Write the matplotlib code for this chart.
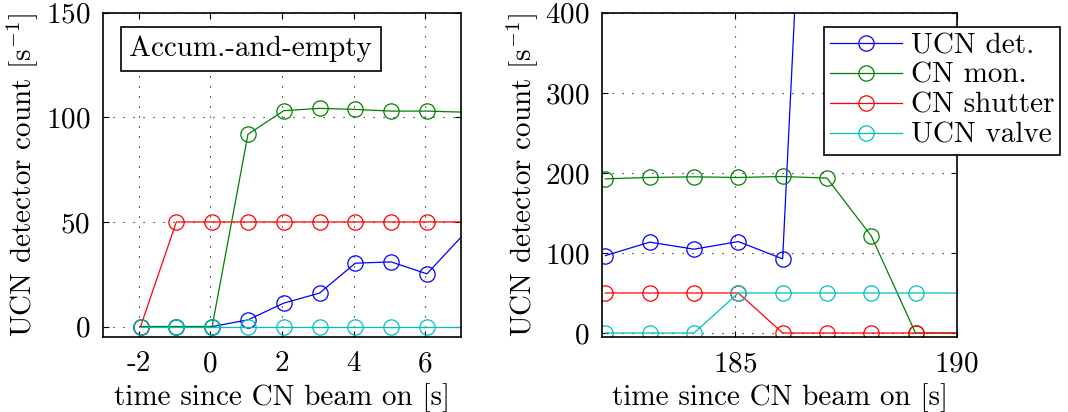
import matplotlib
matplotlib.use("Agg")
import matplotlib.pyplot as plt

plt.rcParams.update({
    "font.family": "serif",
    "font.serif": ["cmr10"],
    "mathtext.fontset": "cm",
    "axes.unicode_minus": False,
    "axes.formatter.use_mathtext": True,
    "font.size": 21,
    "xtick.direction": "in",
    "ytick.direction": "in",
    "xtick.top": True,
    "ytick.right": True,
})

# Left panel: start of accumulation
t_left = [-1.95, -0.95, 0.05, 1.05, 2.05, 3.05, 4.05, 5.05, 6.05, 7.05]
ucn_det_left = [0, 0, 0, 3.2, 11.2, 16.0, 30.3, 30.9, 25.2, 43.6]
cn_mon_left = [0, 0, 0, 91.9, 103.2, 104.3, 103.8, 103.0, 103.0, 102.5]
cn_shutter_left = [0, 50, 50, 50, 50, 50, 50, 50, 50, 50]
ucn_valve_left = [0, 0, 0, 0, 0, 0, 0, 0, 0, 0]

# Right panel: emptying
t_right = [182.07, 183.07, 184.07, 185.07, 186.07, 187.07, 188.07, 189.07, 190.07]
ucn_det_right = [96.7, 113.5, 104.7, 114.2, 92.6, 1230, 1230, 1230, 1230]
cn_mon_right = [192.6, 194.3, 195.1, 194.3, 195.5, 193.5, 121.3, 0, 0]
cn_shutter_right = [50, 50, 50, 50, 0, 0, 0, 0, 0]
ucn_valve_right = [0, 0, 0, 50, 50, 50, 50, 50, 50]

labels = ["UCN det.", "CN mon.", "CN shutter", "UCN valve"]
colors = ["#0000ff", "#008000", "#ff0000", "#00bfbf"]

xlim_left = (-3, 7)
xlim_right = (182, 190)

fig = plt.figure(figsize=(10.68, 4.12), dpi=100)
ax1 = fig.add_axes([0.0964, 0.182, 0.3352, 0.787])
ax2 = fig.add_axes([0.564, 0.182, 0.3318, 0.787])

mk = dict(marker="o", markersize=11, markerfacecolor="none", linewidth=0.9,
          markeredgewidth=0.9)


def inside(ts, lim):
    return [i for i, t in enumerate(ts) if lim[0] <= t <= lim[1]]


left_series = [ucn_det_left, cn_mon_left, cn_shutter_left, ucn_valve_left]
right_series = [ucn_det_right, cn_mon_right, cn_shutter_right, ucn_valve_right]

for ys, c in zip(left_series, colors):
    ax1.plot(t_left, ys, color=c, markevery=inside(t_left, xlim_left), **mk)
handles = []
for ys, c, lab in zip(right_series, colors, labels):
    h, = ax2.plot(t_right, ys, color=c, label=lab,
                  markevery=inside(t_right, xlim_right), **mk)
    handles.append(h)

ax1.set_xlim(*xlim_left)
ax1.set_ylim(-5, 150)
ax1.set_xticks([-2, 0, 2, 4, 6])
ax1.set_xticklabels(["-2", "0", "2", "4", "6"])
ax1.set_yticks([0, 50, 100, 150])

ax2.set_xlim(*xlim_right)
ax2.set_ylim(-5, 400)
ax2.set_xticks([185, 190])
ax2.set_yticks([0, 100, 200, 300, 400])

for ax in (ax1, ax2):
    ax.grid(True, linestyle=(0, (1, 8)), color="black", linewidth=0.8)
    ax.set_xlabel("time since CN beam on [s]")
    ax.set_ylabel(r"UCN detector count [s$^{-1}$]")
    ax.tick_params(length=4, width=0.8)
    ax.tick_params(axis="y", pad=9)
    ax.tick_params(axis="x", pad=10)
    for s in ax.spines.values():
        s.set_linewidth(1.2)

ax1.xaxis.labelpad = 4
ax2.xaxis.labelpad = 4

ax1.text(0.074, 0.8896, "Accum.-and-empty", transform=ax1.transAxes,
         ha="left", va="center", fontsize=21,
         bbox=dict(boxstyle="square,pad=0.3", facecolor="white",
                   edgecolor="black", linewidth=1.2))

leg = fig.legend(handles=handles, loc="upper right",
                 bbox_to_anchor=(0.9925, 0.935), borderaxespad=0,
                 fancybox=False, framealpha=1, edgecolor="black",
                 handlelength=2.47, handletextpad=0.3, labelspacing=0.12,
                 borderpad=0.2, fontsize=21)
leg.get_frame().set_linewidth(1.2)

fig.savefig("out.png", dpi=100)
